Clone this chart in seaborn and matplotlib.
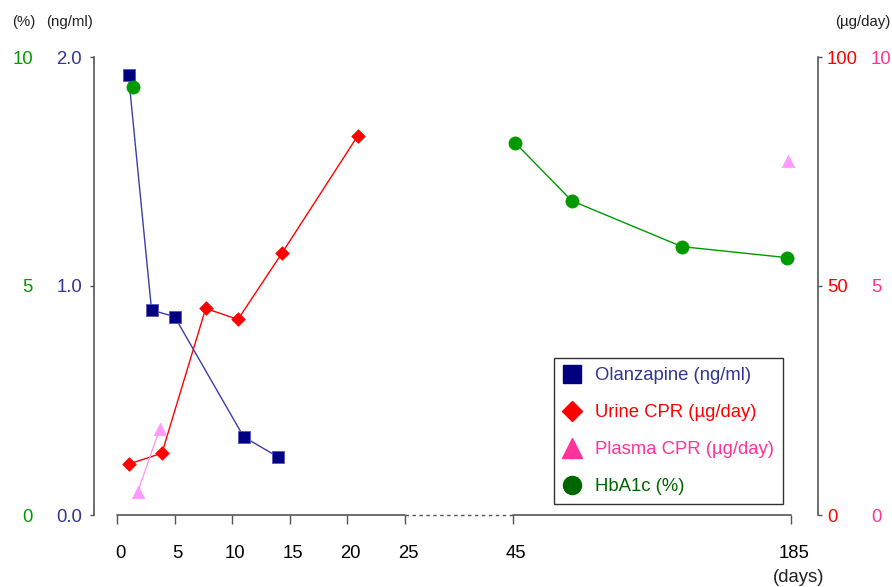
import numpy as np
import pandas as pd
import matplotlib
matplotlib.use("Agg")
import matplotlib.pyplot as plt
import matplotlib.transforms as mtransforms
from matplotlib.lines import Line2D
import seaborn as sns

# values (days since start)
olz_days = [1, 3, 5, 11, 14]
olz_ngml = [1.92, 0.895, 0.866, 0.341, 0.253]

urine_days = [1, 3.9, 7.7, 10.5, 14.3, 20.9]
urine_cpr = [11.1, 13.5, 45.1, 42.7, 57.1, 82.8]

plasma_days = [1.8, 3.7, 183.3]
plasma_cpr = [0.5, 1.88, 7.73]
plasma_seg = [0, 0, 1]

hba1c_days = [1.4, 46, 74.6, 130, 182.8]
hba1c_pct = [9.34, 8.13, 6.86, 5.86, 5.62]
hba1c_seg = [0, 1, 1, 1, 1]

day_ticks = [0, 5, 10, 15, 20, 25, 45, 185]

# colours
NAVY = "#000080"
OLZ_LINE = "#3d3da8"
OLZ_TXT = "#333399"
RED = "#ff0000"
PINK = "#ff99ff"
PINK_TXT = "#ff3399"
GREEN = "#009900"
DKGREEN = "#006600"
AXCOL = "#555555"


# broken day axis: 0-25 wide, 25-45 gap, 45-185 compressed
def fwd(d):
    d = np.asarray(d, dtype=float)
    return np.where(d <= 25, d * 11.52,
                    np.where(d <= 45, 288 + (d - 25) * 5.4, 396 + (d - 45) * 1.986))


def inv(u):
    u = np.asarray(u, dtype=float)
    return np.where(u <= 288, u / 11.52,
                    np.where(u <= 396, 25 + (u - 288) / 5.4, 45 + (u - 396) / 1.986))


sns.set_style("white")
plt.rcParams["font.family"] = ["Liberation Sans", "DejaVu Sans"]
FS = 13.3

olz = pd.DataFrame({"day": olz_days, "val": olz_ngml})
urine = pd.DataFrame({"day": urine_days, "val": urine_cpr})
plasma = pd.DataFrame({"day": plasma_days, "val": plasma_cpr, "seg": plasma_seg})
hba1c = pd.DataFrame({"day": hba1c_days, "val": hba1c_pct, "seg": hba1c_seg})

W, H = 892, 587
fig = plt.figure(figsize=(W / 100, H / 100), dpi=100)
ax = fig.add_axes([94 / W, (H - 515) / H, (818 - 94) / W, 458 / H])
ax.set_xscale("function", functions=(fwd, inv))

ax_pct = ax.twinx()
ax_ur = ax.twinx()
ax_pl = ax.twinx()

# olanzapine
sns.lineplot(data=olz, x="day", y="val", ax=ax, color=OLZ_LINE, lw=1.0)
sns.scatterplot(data=olz, x="day", y="val", ax=ax, marker="s", s=85,
                color=NAVY, edgecolor="#5555bb", linewidth=0.6, zorder=3)
# HbA1c
sns.lineplot(data=hba1c, x="day", y="val", units="seg", estimator=None,
             ax=ax_pct, color=GREEN, lw=1.0)
sns.scatterplot(data=hba1c, x="day", y="val", ax=ax_pct, marker="o", s=90,
                color=GREEN, edgecolor=GREEN, linewidth=0.5, zorder=3)
# urine CPR
sns.lineplot(data=urine, x="day", y="val", ax=ax_ur, color=RED, lw=1.0)
sns.scatterplot(data=urine, x="day", y="val", ax=ax_ur, marker="D", s=48,
                color=RED, edgecolor=RED, linewidth=0.5, zorder=3)
# plasma CPR
sns.lineplot(data=plasma, x="day", y="val", units="seg", estimator=None,
             ax=ax_pl, color=PINK, lw=1.0)
sns.scatterplot(data=plasma, x="day", y="val", ax=ax_pl, marker="^", s=80,
                color=PINK, edgecolor=PINK, linewidth=0.5, zorder=3)

ax.set_xlim(inv(-23), inv(701))
ax.set_ylim(0, 2.0)
ax_pct.set_ylim(0, 10)
ax_ur.set_ylim(0, 100)
ax_pl.set_ylim(0, 10)

for a in (ax, ax_pct, ax_ur, ax_pl):
    a.set_xlabel("")
    a.set_ylabel("")
    for s in a.spines.values():
        s.set_visible(False)

# left inner axis (ng/ml)
ax.spines["left"].set_visible(True)
ax.spines["left"].set_color(AXCOL)
ax.spines["left"].set_linewidth(1.2)
ax.set_yticks([0, 1.0, 2.0], ["0.0", "1.0", "2.0"])
ax.tick_params(axis="y", left=True, direction="out", length=3, width=1,
               color=AXCOL, pad=5.5, labelsize=FS, labelcolor=OLZ_TXT)

# left outer labels (%)
ax_pct.yaxis.tick_left()
ax_pct.set_yticks([0, 5, 10], ["0", "5", "10"])
ax_pct.tick_params(axis="y", left=True, right=False, labelleft=True, labelright=False,
                   length=0, pad=44, labelsize=FS, labelcolor=GREEN)

# right inner axis (urine)
ax_ur.spines["right"].set_visible(True)
ax_ur.spines["right"].set_color(AXCOL)
ax_ur.spines["right"].set_linewidth(1.2)
ax_ur.set_yticks([0, 50, 100], ["0", "50", "100"])
ax_ur.tick_params(axis="y", right=True, direction="out", length=3, width=1,
                  color=AXCOL, pad=3.5, labelsize=FS, labelcolor=RED)

# right outer labels (plasma)
ax_pl.set_yticks([0, 5, 10], ["0", "5", "10"])
ax_pl.tick_params(axis="y", right=True, length=0, pad=38, labelsize=FS,
                  labelcolor=PINK_TXT)

# day axis with dotted break
ax.set_xticks(day_ticks, [str(t) for t in day_ticks])
ax.tick_params(axis="x", bottom=True, direction="out", length=6.5, width=1,
               color=AXCOL, pad=15, labelsize=FS, labelcolor="black")
shift = mtransforms.ScaledTranslation(3 / 100, 0, fig.dpi_scale_trans)
for lbl in ax.xaxis.get_majorticklabels():
    lbl.set_transform(lbl.get_transform() + shift)
xt = ax.get_xaxis_transform()
ax.plot([0, 25], [0, 0], transform=xt, color=AXCOL, lw=1.2, clip_on=False)
ax.plot([25, 45], [0, 0], transform=xt, color=AXCOL, lw=1.0, ls=(0, (2.5, 2.5)), clip_on=False)
ax.plot([45, 185], [0, 0], transform=xt, color=AXCOL, lw=1.2, clip_on=False)

# unit labels
fig.text(24 / W, 1 - 22 / H, "(%)", ha="center", va="center", fontsize=10.8, color="#222222")
fig.text(70 / W, 1 - 22 / H, "(ng/ml)", ha="center", va="center", fontsize=10.8, color="#222222")
fig.text(863 / W, 1 - 22 / H, "(\u00b5g/day)", ha="center", va="center", fontsize=10.8, color="#222222")
fig.text(799 / W, 1 - 577 / H, "(days)", ha="center", va="center", fontsize=FS, color="#222222")

# legend
handles = [
    Line2D([], [], ls="none", marker="s", ms=13, color=NAVY),
    Line2D([], [], ls="none", marker="D", ms=10, color=RED),
    Line2D([], [], ls="none", marker="^", ms=14, color=PINK_TXT),
    Line2D([], [], ls="none", marker="o", ms=13, color=DKGREEN),
]
labels = ["Olanzapine (ng/ml)", "Urine CPR (\u00b5g/day)", "Plasma CPR (\u00b5g/day)", "HbA1c (%)"]
leg = ax_pl.legend(handles, labels, loc="upper left", bbox_to_anchor=(554 / W, 1 - 358 / H),
                   bbox_transform=fig.transFigure, fontsize=FS, frameon=True, fancybox=False,
                   edgecolor="black", borderaxespad=0, borderpad=0.5, handlelength=1.0,
                   handletextpad=0.7, labelspacing=1.08)
leg.get_frame().set_linewidth(1.0)
for txt, c in zip(leg.get_texts(), [OLZ_TXT, RED, PINK_TXT, DKGREEN]):
    txt.set_color(c)

fig.savefig("out.png", dpi=100)
